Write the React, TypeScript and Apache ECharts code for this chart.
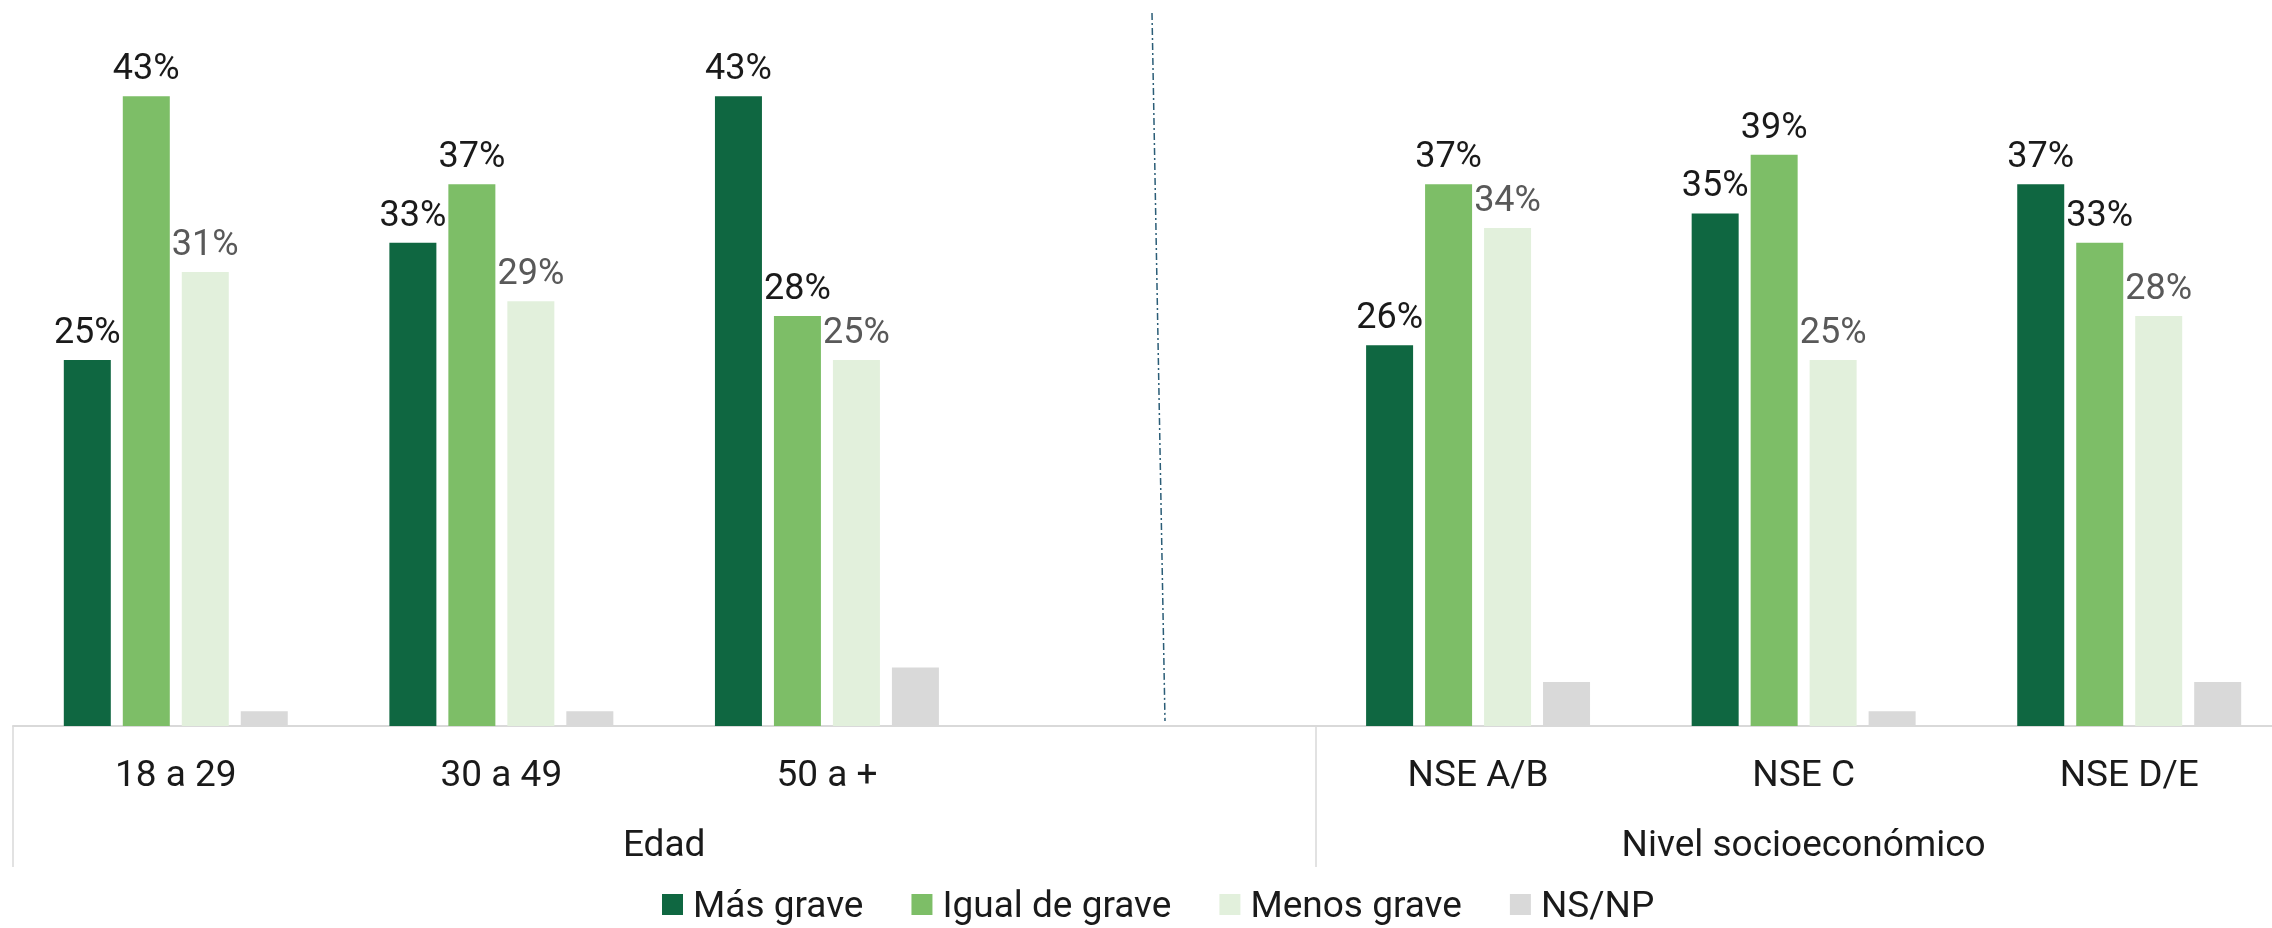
import React, { useEffect, useRef } from "react";
import * as echarts from "echarts";

const categories = ["18 a 29", "30 a 49", "50 a +", "", "NSE A/B", "NSE C", "NSE D/E"];
const seriesNames = ["Más grave", "Igual de grave", "Menos grave", "NS/NP"];
const masGrave = [25, 33, 43, null, 26, 35, 37];
const igualGrave = [43, 37, 28, null, 37, 39, 33];
const menosGrave = [31, 29, 25, null, 34, 25, 28];
const nsnp = [1, 1, 4, null, 3, 1, 3];
const groupNames = ["Edad", "Nivel socioeconómico"];
const groupSizes = [4, 3];

const colors = ["#0F6741", "#7DBE67", "#E2F0DC", "#D9D9D9"];
const labelColors = ["#1A1A1A", "#1A1A1A", "#595959", "#595959"];

export default function App() {
  const ref = useRef<HTMLDivElement>(null);

  useEffect(() => {
    if (!ref.current) return;
    const chart = echarts.init(ref.current, null, { renderer: "svg" });

    const bounds: number[] = [0];
    groupSizes.forEach((s) => bounds.push(bounds[bounds.length - 1] + s));
    const centers = groupSizes.map((s, i) => bounds[i] + s / 2);

    const values = [masGrave, igualGrave, menosGrave, nsnp];
    const series = values.map((vals, i) => ({
      name: seriesNames[i],
      type: "bar",
      xAxisIndex: 0,
      yAxisIndex: 0,
      data: vals,
      barWidth: 47,
      barGap: "25.5%",
      itemStyle: { color: colors[i] },
      label: {
        show: i < 3,
        position: "top",
        distance: 11,
        formatter: "{c}%",
        fontFamily: "Roboto",
        fontSize: 36,
        color: labelColors[i],
      },
    }));

    chart.setOption({
      animation: false,
      textStyle: { fontFamily: "Roboto" },
      grid: {
        left: 13,
        width: 2279,
        top: 67,
        bottom: 202,
        containLabel: false,
        outerBoundsMode: "none",
      },
      legend: {
        data: seriesNames,
        left: 662,
        top: 886,
        padding: 0,
        icon: "rect",
        itemWidth: 21,
        itemHeight: 21,
        itemGap: 48,
        textStyle: {
          fontFamily: "Roboto",
          fontSize: 37,
          color: "#1A1A1A",
          padding: [0, 0, 0, 5],
        },
      },
      xAxis: [
        {
          type: "category",
          position: "bottom",
          data: categories,
          axisLine: { show: true, lineStyle: { color: "#D9D9D9", width: 2 } },
          axisTick: { show: false },
          axisLabel: {
            interval: 0,
            margin: 29,
            fontFamily: "Roboto",
            fontSize: 37,
            color: "#1A1A1A",
          },
        },
        {
          type: "value",
          position: "bottom",
          min: 0,
          max: bounds[bounds.length - 1],
          axisLine: { show: false },
          splitLine: { show: false },
          axisTick: {
            show: true,
            customValues: bounds,
            length: 141,
            lineStyle: { color: "#D9D9D9", width: 1.5 },
          },
          axisLabel: {
            show: true,
            customValues: centers,
            margin: 99,
            fontFamily: "Roboto",
            fontSize: 37,
            color: "#1A1A1A",
            formatter: (v: number) => {
              const idx = centers.findIndex((c) => Math.abs(c - v) < 1e-6);
              return idx >= 0 ? groupNames[idx] : "";
            },
          },
        },
      ],
      yAxis: {
        type: "value",
        min: 0,
        max: 45,
        show: false,
        splitLine: { show: false },
      },
      graphic: [
        {
          type: "line",
          shape: { x1: 1152, y1: 13, x2: 1165, y2: 721 },
          style: { stroke: "#2B5D77", lineWidth: 1.5, lineDash: [7, 3, 2, 3] },
        },
      ],
      series,
    });

    return () => chart.dispose();
  }, []);

  return (
    <div
      ref={ref}
      style={{ position: "fixed", left: 0, top: 0, width: 2272, height: 928 }}
    />
  );
}
